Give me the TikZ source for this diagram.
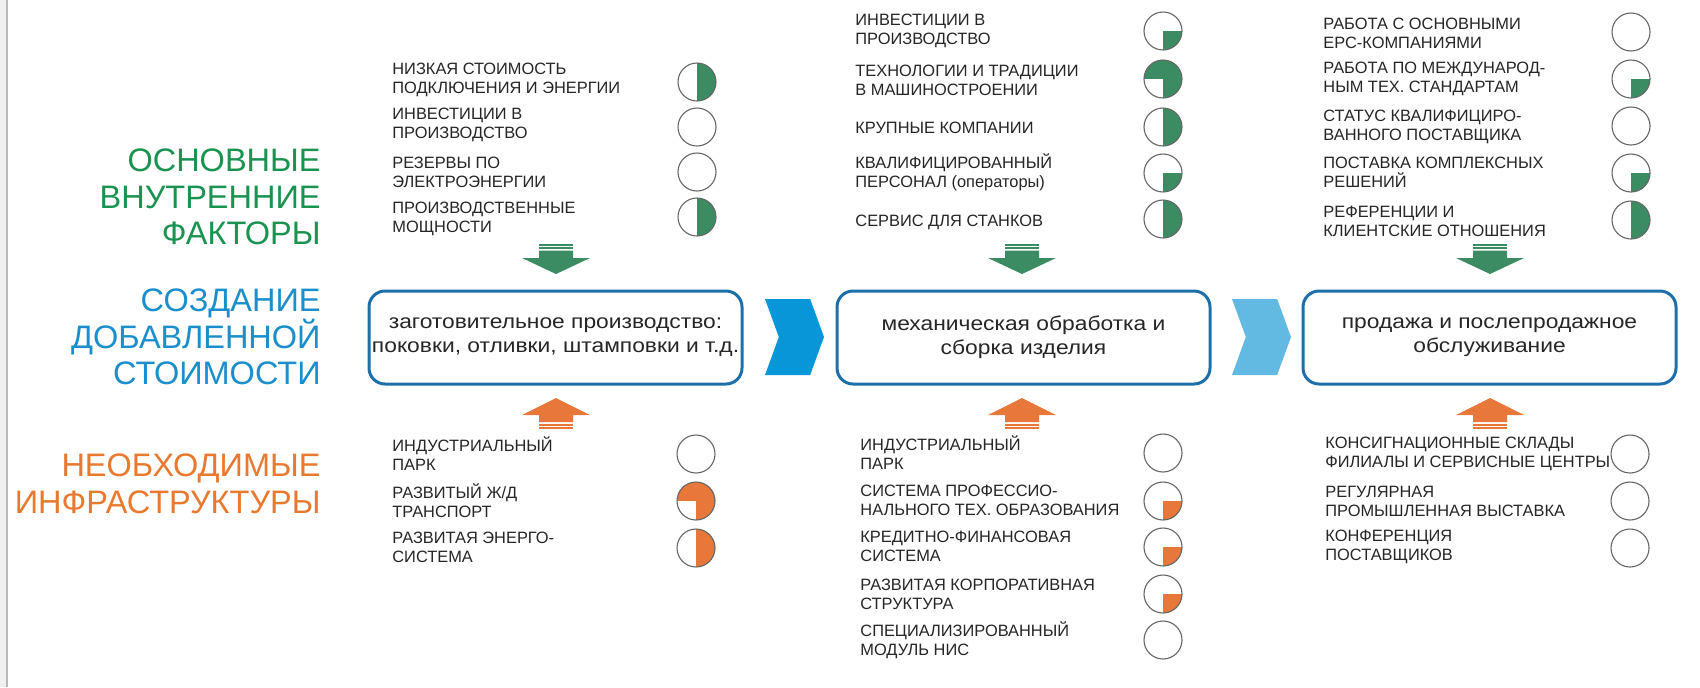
\documentclass[tikz,border=0pt]{standalone}
\usepackage{fontspec}
\setmainfont{Liberation Sans}
\newfontfamily\boxfont[FakeStretch=1.14]{Liberation Sans}
\usetikzlibrary{shapes.arrows,shapes.symbols,calc}
\definecolor{hgreen}{HTML}{1A9350}
\definecolor{hblue}{HTML}{1B8FCB}
\definecolor{horange}{HTML}{E8792F}
\definecolor{pgreen}{HTML}{3B8C63}
\definecolor{porange}{HTML}{E8783A}
\definecolor{bborder}{HTML}{1D6FA9}
\definecolor{chevA}{HTML}{0797D8}
\definecolor{chevB}{HTML}{62B9E2}
\definecolor{itemtext}{HTML}{262626}
\begin{document}
\begin{tikzpicture}[x=0.5pt,y=-0.5pt,
  header/.style={anchor=east, align=right, inner sep=0pt, font=\fontsize{16.25pt}{18.25pt}\selectfont},
  item/.style={anchor=west, align=left, inner sep=0pt, text=itemtext, font=\fontsize{8.2pt}{9.5pt}\selectfont},
  rating/.style={circle, draw=gray!80!black, line width=0.55pt, minimum size=19pt, inner sep=0pt},
  half/.style={path picture={\fill[#1] (path picture bounding box.north) rectangle (path picture bounding box.south east);}},
  quarter/.style={path picture={\fill[#1] (path picture bounding box.center) rectangle (path picture bounding box.south east);}},
  threeq/.style={path picture={\fill[#1] (path picture bounding box.north west) rectangle (path picture bounding box.east);
                               \fill[#1] (path picture bounding box.north) rectangle (path picture bounding box.south east);}},
  stagebox/.style={draw=bborder, line width=1.5pt, rounded corners=8pt, minimum width=186.5pt, minimum height=46.5pt,
                   align=center, inner sep=0pt, text=itemtext, font=\boxfont\fontsize{10pt}{12pt}\selectfont},
  chev/.style={signal, signal from=west, signal to=east, signal pointer angle=140, minimum width=29.5pt,
               minimum height=38pt, inner sep=0pt, draw=none}
]
% canvas
\fill[white] (0,0) rectangle (1700,687);
\useasboundingbox (0,0) rectangle (1700,687);
\fill[gray!12] (0,0) rectangle (7,687);
\draw[gray!55, line width=0.8pt] (7,0) -- (7,687);

% headers
\node[header, text=hgreen] (hf) at (321,197) {ОСНОВНЫЕ\\ВНУТРЕННИЕ\\ФАКТОРЫ};
\node[header, text=hblue] (hv) at (321,337) {СОЗДАНИЕ\\ДОБАВЛЕННОЙ\\СТОИМОСТИ};
\node[header, text=horange] (hi) at (321,484) {НЕОБХОДИМЫЕ\\ИНФРАСТРУКТУРЫ};

% stage boxes
\node[stagebox] (b1) at (555.5,337.5) {заготовительное производство:\\поковки, отливки, штамповки и т.д.};
\node[stagebox] (b2) at (1023.5,337.5) {механическая обработка и\\сборка изделия};
\node[stagebox] (b3) at (1489.5,337.5) {продажа и послепродажное\\обслуживание};

% chevrons
\node[chev, fill=chevA] (ch1) at (794.5,337) {};
\node[chev, fill=chevB] (ch2) at (1261.5,337) {};

% green arrows (down)
\foreach \cx in {556,1022,1490}{
  \fill[pgreen] (\cx-17,243.5) rectangle (\cx+17,245.5);
  \fill[pgreen] (\cx-17,247) rectangle (\cx+17,249);
  \fill[pgreen] (\cx-17,250.5) -- (\cx+17,250.5) -- (\cx+17,258) -- (\cx+34,258) -- (\cx,274) -- (\cx-34,258) -- (\cx-17,258) -- cycle;
}
% orange arrows (up)
\foreach \cx in {556,1022,1490}{
  \fill[porange] (\cx-17,422) -- (\cx+17,422) -- (\cx+17,415) -- (\cx+34,415) -- (\cx,398) -- (\cx-34,415) -- (\cx-17,415) -- cycle;
  \fill[porange] (\cx-17,423.5) rectangle (\cx+17,425.5);
  \fill[porange] (\cx-17,427) rectangle (\cx+17,429);
}

% column 1, internal factors
\node[item] (t1a) at (392,80) {НИЗКАЯ СТОИМОСТЬ\\ПОДКЛЮЧЕНИЯ И ЭНЕРГИИ};
\node[item] (t1b) at (392,125) {ИНВЕСТИЦИИ В\\ПРОИЗВОДСТВО};
\node[item] (t1c) at (392,172) {РЕЗЕРВЫ ПО\\ЭЛЕКТРОЭНЕРГИИ};
\node[item] (t1d) at (392,219) {ПРОИЗВОДСТВЕННЫЕ\\МОЩНОСТИ};
\node[rating, half=pgreen] (c1a) at (697,82) {};
\node[rating] (c1b) at (697,127) {};
\node[rating] (c1c) at (697,172) {};
\node[rating, half=pgreen] (c1d) at (697,217) {};

% column 2, internal factors
\node[item] (t2a) at (855,31) {ИНВЕСТИЦИИ В\\ПРОИЗВОДСТВО};
\node[item] (t2b) at (855,80) {ТЕХНОЛОГИИ И ТРАДИЦИИ\\В МАШИНОСТРОЕНИИ};
\node[item] (t2c) at (855,128) {КРУПНЫЕ КОМПАНИИ};
\node[item] (t2d) at (855,172) {КВАЛИФИЦИРОВАННЫЙ\\ПЕРСОНАЛ (операторы)};
\node[item] (t2e) at (855,222) {СЕРВИС ДЛЯ СТАНКОВ};
\node[rating, quarter=pgreen] (c2a) at (1163,31) {};
\node[rating, threeq=pgreen] (c2b) at (1163,79) {};
\node[rating, half=pgreen] (c2c) at (1163,127) {};
\node[rating, quarter=pgreen] (c2d) at (1163,173) {};
\node[rating, half=pgreen] (c2e) at (1163,219) {};

% column 3, internal factors
\node[item] (t3a) at (1323,33) {РАБОТА С ОСНОВНЫМИ\\ЕРС-КОМПАНИЯМИ};
\node[item] (t3b) at (1323,79) {РАБОТА ПО МЕЖДУНАРОД-\\НЫМ ТЕХ. СТАНДАРТАМ};
\node[item] (t3c) at (1323,127) {СТАТУС КВАЛИФИЦИРО-\\ВАННОГО ПОСТАВЩИКА};
\node[item] (t3d) at (1323,172) {ПОСТАВКА КОМПЛЕКСНЫХ\\РЕШЕНИЙ};
\node[item] (t3e) at (1323,221) {РЕФЕРЕНЦИИ И\\КЛИЕНТСКИЕ ОТНОШЕНИЯ};
\node[rating] (c3a) at (1631,32) {};
\node[rating, quarter=pgreen] (c3b) at (1631,79) {};
\node[rating] (c3c) at (1631,126) {};
\node[rating, quarter=pgreen] (c3d) at (1631,173) {};
\node[rating, half=pgreen] (c3e) at (1631,220) {};

% column 1, infrastructure
\node[item] (u1a) at (392,454) {ИНДУСТРИАЛЬНЫЙ\\ПАРК};
\node[item] (u1b) at (392,501) {РАЗВИТЫЙ Ж/Д\\ТРАНСПОРТ};
\node[item] (u1c) at (392,547) {РАЗВИТАЯ ЭНЕРГО-\\СИСТЕМА};
\node[rating] (d1a) at (696,454) {};
\node[rating, threeq=porange] (d1b) at (696,501) {};
\node[rating, half=porange] (d1c) at (696,548) {};

% column 2, infrastructure
\node[item] (u2a) at (860,453) {ИНДУСТРИАЛЬНЫЙ\\ПАРК};
\node[item] (u2b) at (860,500) {СИСТЕМА ПРОФЕССИО-\\НАЛЬНОГО ТЕХ. ОБРАЗОВАНИЯ};
\node[item] (u2c) at (860,546) {КРЕДИТНО-ФИНАНСОВАЯ\\СИСТЕМА};
\node[item] (u2d) at (860,594) {РАЗВИТАЯ КОРПОРАТИВНАЯ\\СТРУКТУРА};
\node[item] (u2e) at (860,640) {СПЕЦИАЛИЗИРОВАННЫЙ\\МОДУЛЬ НИС};
\node[rating] (d2a) at (1163,453) {};
\node[rating, quarter=porange] (d2b) at (1163,501) {};
\node[rating, quarter=porange] (d2c) at (1163,547) {};
\node[rating, quarter=porange] (d2d) at (1163,594) {};
\node[rating] (d2e) at (1163,640) {};

% column 3, infrastructure
\node[item] (u3a) at (1325,454) {КОНСИГНАЦИОННЫЕ СКЛАДЫ\\ФИЛИАЛЫ И СЕРВИСНЫЕ ЦЕНТРЫ};
\node[item] (u3b) at (1325,501) {РЕГУЛЯРНАЯ\\ПРОМЫШЛЕННАЯ ВЫСТАВКА};
\node[item] (u3c) at (1325,547) {КОНФЕРЕНЦИЯ\\ПОСТАВЩИКОВ};
\node[rating] (d3a) at (1630,454) {};
\node[rating] (d3b) at (1630,501) {};
\node[rating] (d3c) at (1630,548) {};
\end{tikzpicture}
\end{document}
